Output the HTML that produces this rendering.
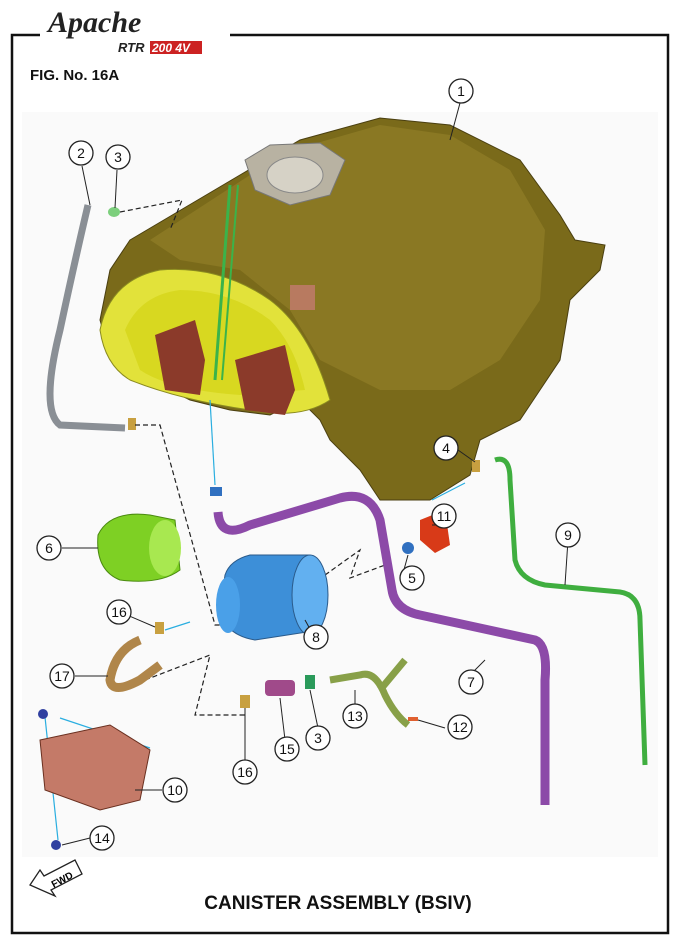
<!DOCTYPE html>
<html><head><meta charset="utf-8"><style>
html,body{margin:0;padding:0;background:#fff;}
svg{display:block;font-family:"Liberation Sans",sans-serif;}
</style></head><body>
<svg width="676" height="945" viewBox="0 0 676 945">
<rect width="676" height="945" fill="#fff"/>
<rect x="12" y="35" width="656" height="898" fill="none" stroke="#111" stroke-width="2.5"/>
<rect x="40" y="5" width="190" height="55" fill="#fff"/>
<text x="48" y="32" font-size="30" font-style="italic" font-weight="bold" font-family="Liberation Serif,serif" fill="#222">Apache</text>
<text x="118" y="52" font-size="13" font-style="italic" font-weight="bold" fill="#222">RTR</text>
<rect x="150" y="41" width="52" height="13" fill="#c22"/>
<text x="152" y="52" font-size="12" font-style="italic" font-weight="bold" fill="#fff">200 4V</text>
<text x="30" y="80" font-size="15" font-weight="bold" fill="#111">FIG. No. 16A</text>
<rect x="22" y="112" width="636" height="745" fill="#fafafa"/>
<!-- tank -->
<path d="M130 240 L240 175 L300 140 L380 118 L450 125 L520 160 L560 215 L575 240 L605 245 L600 270 L570 300 L560 360 L540 390 L520 420 L480 440 L470 475 L430 500 L380 500 L360 470 L330 440 L320 420 L300 400 L270 415 L230 410 L190 400 L150 380 L110 355 L100 320 L110 270 Z" fill="#7a6a1a" stroke="#4a3f10" stroke-width="1"/>
<path d="M150 240 L250 175 L310 145 L380 125 L450 135 L510 170 L545 230 L540 300 L500 360 L450 390 L380 390 L320 360 L290 310 L240 270 L180 260 Z" fill="#8e7c25" opacity="0.8"/>
<path d="M245 160 L270 145 L320 143 L345 160 L330 195 L290 205 L255 190 Z" fill="#b8b2a2" stroke="#777"/>
<ellipse cx="295" cy="175" rx="28" ry="18" fill="#d6d2c6" stroke="#888"/>
<path d="M100 330 Q110 280 160 270 Q220 265 270 300 Q310 330 330 400 Q300 420 250 410 Q180 400 130 380 Q105 365 100 330 Z" fill="#e2e23a" stroke="#8a8a20"/>
<path d="M125 330 Q140 295 180 290 Q230 290 270 320 Q295 345 305 390 L240 395 Q170 390 140 370 Z" fill="#d8d820"/>
<path d="M155 335 L195 320 L205 360 L200 395 L165 390 Z" fill="#8b3a2a"/>
<path d="M235 360 L285 345 L295 390 L285 415 L245 410 Z" fill="#8b3a2a"/>
<rect x="290" y="285" width="25" height="25" fill="#b87a60"/>
<!-- green tube 2 (grey) -->
<path d="M88 205 Q75 260 60 330 Q40 410 60 425 L125 428" fill="none" stroke="#8a8f95" stroke-width="7"/>
<path d="M230 185 L215 380" stroke="#3bb34a" stroke-width="3" fill="none"/>
<path d="M238 185 L222 380" stroke="#3bb34a" stroke-width="2" fill="none"/>
<ellipse cx="114" cy="212" rx="6" ry="5" fill="#7ccf7c"/>
<rect x="128" y="418" width="8" height="12" fill="#c8a040"/>
<!-- dashed lines -->
<g stroke="#222" stroke-dasharray="5,3" fill="none" stroke-width="1.2">
<path d="M120 212 L182 200 L170 230"/>
<path d="M135 425 L160 425 L215 625 L225 625"/>
<path d="M325 575 L360 550 L350 578 L385 565"/>
<path d="M145 680 L210 655 L195 715 L245 715"/>
</g>
<g stroke="#2aaee0" stroke-width="1.2">
<line x1="210" y1="400" x2="215" y2="485"/>
<line x1="432" y1="500" x2="465" y2="483"/>
<line x1="165" y1="630" x2="190" y2="622"/>
<line x1="45" y1="717" x2="58" y2="840"/>
<line x1="60" y1="718" x2="150" y2="748"/>
</g>
<!-- purple hose 7 -->
<path d="M218 512 Q220 540 250 525 L340 498 Q370 490 380 520 L392 590 Q395 610 420 615 L535 640 Q548 645 545 680 L545 805" fill="none" stroke="#8c4aa8" stroke-width="9" stroke-linejoin="round"/>
<!-- green hose 9 -->
<path d="M495 460 Q510 455 510 480 L515 560 Q520 580 545 585 L620 592 Q640 595 640 620 L645 765" fill="none" stroke="#3fae3f" stroke-width="5"/>
<!-- canister 8 -->
<path d="M225 575 Q230 560 250 555 L310 555 L320 630 L255 640 Q225 635 220 610 Z" fill="#3d8fd8" stroke="#2a5a8a"/>
<ellipse cx="310" cy="595" rx="18" ry="40" fill="#62b0f0" stroke="#2a5a8a"/>
<ellipse cx="228" cy="605" rx="12" ry="28" fill="#4aa0e8"/>
<!-- clamp parts -->
<path d="M98 535 Q110 510 150 515 L175 520 L180 570 Q160 585 120 580 Q95 570 98 535 Z" fill="#7ed024" stroke="#4a8a10"/>
<ellipse cx="165" cy="548" rx="16" ry="28" fill="#a8e850"/>
<path d="M420 520 L445 510 L450 545 L435 553 L420 540 Z" fill="#d83a18"/>
<circle cx="408" cy="548" r="6" fill="#3070c0"/>
<rect x="210" y="487" width="12" height="9" fill="#3070c0"/>
<rect x="472" y="460" width="8" height="12" fill="#c8a040"/>
<path d="M140 640 Q115 650 110 680 Q112 695 140 680 L160 665" fill="none" stroke="#b0864a" stroke-width="9"/>
<rect x="155" y="622" width="9" height="12" fill="#c8a040"/>
<path d="M330 680 L360 675 Q375 670 385 695 Q395 715 408 725 M380 690 L405 660" fill="none" stroke="#88a048" stroke-width="7"/>
<rect x="408" y="717" width="10" height="4" fill="#e06030"/>
<rect x="265" y="680" width="30" height="16" rx="4" fill="#a04a8a"/>
<rect x="305" y="675" width="10" height="14" fill="#2a9a5a"/>
<rect x="240" y="695" width="10" height="13" fill="#c8a040"/>
<!-- skid plate 10 -->
<path d="M40 740 L110 725 L150 750 L140 800 L100 810 L45 790 Z" fill="#c47a68" stroke="#6a3020"/>
<circle cx="43" cy="714" r="5" fill="#3040a0"/>
<circle cx="56" cy="845" r="5" fill="#3040a0"/>
<!-- leaders -->
<g stroke="#222" stroke-width="1" fill="none">
<line x1="460" y1="103" x2="450" y2="140"/>
<line x1="82" y1="166" x2="90" y2="205"/>
<line x1="117" y1="170" x2="115" y2="208"/>
<line x1="458" y1="450" x2="475" y2="462"/>
<line x1="62" y1="548" x2="98" y2="548"/>
<line x1="568" y1="540" x2="565" y2="585"/>
<line x1="432" y1="525" x2="445" y2="525"/>
<line x1="402" y1="577" x2="408" y2="555"/>
<line x1="120" y1="612" x2="155" y2="627"/>
<line x1="315" y1="638" x2="305" y2="620"/>
<line x1="470" y1="675" x2="485" y2="660"/>
<line x1="75" y1="676" x2="108" y2="676"/>
<line x1="445" y1="728" x2="418" y2="720"/>
<line x1="355" y1="712" x2="355" y2="690"/>
<line x1="318" y1="728" x2="310" y2="690"/>
<line x1="286" y1="748" x2="280" y2="698"/>
<line x1="245" y1="760" x2="245" y2="708"/>
<line x1="162" y1="790" x2="135" y2="790"/>
<line x1="90" y1="838" x2="62" y2="845"/>
</g>
<g fill="#fff" stroke="#222" stroke-width="1.3" font-size="14" text-anchor="middle">
<circle cx="461" cy="91" r="12"/><circle cx="81" cy="153" r="12"/><circle cx="118" cy="157" r="12"/>
<circle cx="446" cy="448" r="12"/><circle cx="49" cy="548" r="12"/><circle cx="568" cy="535" r="12"/>
<circle cx="444" cy="516" r="12"/><circle cx="412" cy="578" r="12"/><circle cx="119" cy="612" r="12"/>
<circle cx="316" cy="637" r="12"/><circle cx="471" cy="682" r="12"/><circle cx="62" cy="676" r="12"/>
<circle cx="460" cy="727" r="12"/><circle cx="355" cy="716" r="12"/><circle cx="318" cy="738" r="12"/>
<circle cx="287" cy="749" r="12"/><circle cx="245" cy="772" r="12"/><circle cx="175" cy="790" r="12"/>
<circle cx="102" cy="838" r="12"/>
</g>
<g font-size="14" text-anchor="middle" fill="#111">
<text x="461" y="96">1</text><text x="81" y="158">2</text><text x="118" y="162">3</text>
<text x="446" y="453">4</text><text x="49" y="553">6</text><text x="568" y="540">9</text>
<text x="444" y="521">11</text><text x="412" y="583">5</text><text x="119" y="617">16</text>
<text x="316" y="642">8</text><text x="471" y="687">7</text><text x="62" y="681">17</text>
<text x="460" y="732">12</text><text x="355" y="721">13</text><text x="318" y="743">3</text>
<text x="287" y="754">15</text><text x="245" y="777">16</text><text x="175" y="795">10</text>
<text x="102" y="843">14</text>
</g>
<!-- FWD arrow -->
<path d="M30 885 L40 870 L44 876 L75 860 L82 874 L51 890 L55 896 Z" fill="#fff" stroke="#222" stroke-width="1.3"/>
<text x="62" y="884" font-size="10" font-weight="bold" transform="rotate(-28 60 880)" text-anchor="middle">FWD</text>
<text x="338" y="909" font-size="19" font-weight="bold" text-anchor="middle" fill="#111">CANISTER ASSEMBLY (BSIV)</text>
</svg>
</body></html>
